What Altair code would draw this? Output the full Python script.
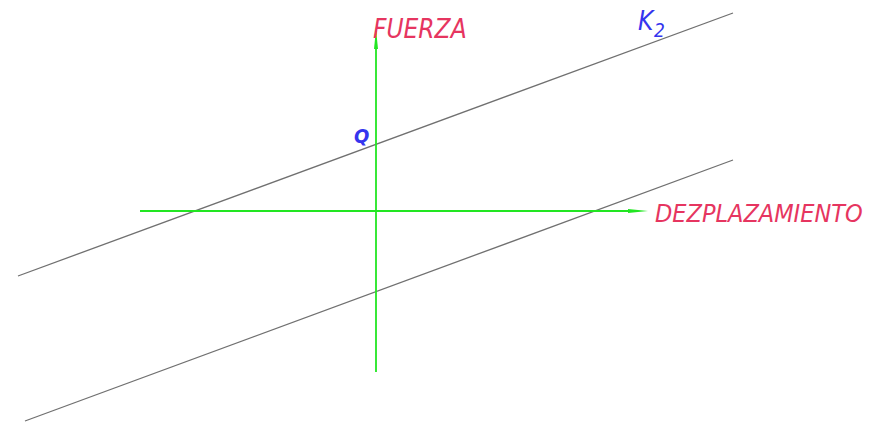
import altair as alt
import pandas as pd

# Axes (origin at the crossing of the green axes)
axis_x1 = [0, -236]
axis_y1 = [-161, 0]
axis_x2 = [0, 262]
axis_y2 = [180, 0]

# Stiffness lines (grey)
line_x1 = [-358, -351]
line_y1 = [-65, -210]
line_x2 = [357, 357]
line_y2 = [198, 51]

# Arrow heads
arrow_x = [0, 262]
arrow_y = [172, 0]
arrow_shape = ["M0,-1L0.2,1L-0.2,1Z", "M1,0L-1,0.2L-1,-0.2Z"]

# Labels
red_labels = ["FUERZA", "DEZPLAZAMIENTO"]
red_x = [-3, 279]
red_y = [173, -11]
red_size = [26, 25]

blue_labels = ["K", "2"]
blue_x = [262, 278]
blue_y = [181, 174]
blue_size = [26, 19]

q_label = ["Q"]
q_x = [-22]
q_y = [68]

xs = alt.Scale(domain=[-368, 493], nice=False, zero=False)
ys = alt.Scale(domain=[-212, 203], nice=False, zero=False)

ax = pd.DataFrame({"x": axis_x1, "y": axis_y1, "x2": axis_x2, "y2": axis_y2})
ln = pd.DataFrame({"x": line_x1, "y": line_y1, "x2": line_x2, "y2": line_y2})
ar = pd.DataFrame({"x": arrow_x, "y": arrow_y, "shape": arrow_shape})
rl = pd.DataFrame({"t": red_labels, "x": red_x, "y": red_y, "s": red_size})
bl = pd.DataFrame({"t": blue_labels, "x": blue_x, "y": blue_y, "s": blue_size})
ql = pd.DataFrame({"t": q_label, "x": q_x, "y": q_y})

FONT = "Liberation Sans Narrow, DejaVu Sans Condensed, sans-serif"
GREEN = "#22e622"


def X():
    return alt.X("x:Q", scale=xs, axis=None)


def Y():
    return alt.Y("y:Q", scale=ys, axis=None)


grey = alt.Chart(ln).mark_rule(color="#707070", strokeWidth=1.3).encode(
    x=X(), y=Y(), x2="x2:Q", y2="y2:Q")
green = alt.Chart(ax).mark_rule(color=GREEN, strokeWidth=1.8).encode(
    x=X(), y=Y(), x2="x2:Q", y2="y2:Q")
arrows = alt.Chart(ar).mark_point(filled=True, color=GREEN, opacity=1, size=400).encode(
    x=X(), y=Y(), shape=alt.Shape("shape:N", scale=None))
red = alt.Chart(rl).mark_text(
    align="left", baseline="alphabetic", color="#e63560",
    font=FONT, fontStyle="italic").encode(
    x=X(), y=Y(), text="t:N", size=alt.Size("s:Q", scale=None))
blue = alt.Chart(bl).mark_text(
    align="left", baseline="alphabetic", color="#3535ee",
    font=FONT, fontStyle="italic").encode(
    x=X(), y=Y(), text="t:N", size=alt.Size("s:Q", scale=None))
q = alt.Chart(ql).mark_text(
    align="left", baseline="alphabetic", color="#3535ee", fontSize=20,
    font=FONT, fontStyle="italic", fontWeight="bold").encode(
    x=X(), y=Y(), text="t:N")

chart = alt.layer(grey, green, arrows, red, blue, q).properties(
    width=861, height=415, padding=0, background="white",
    autosize=alt.AutoSizeParams(type="none"),
).configure_view(stroke=None)

chart.save("out.html", embed_options={"renderer": "svg", "actions": False})
